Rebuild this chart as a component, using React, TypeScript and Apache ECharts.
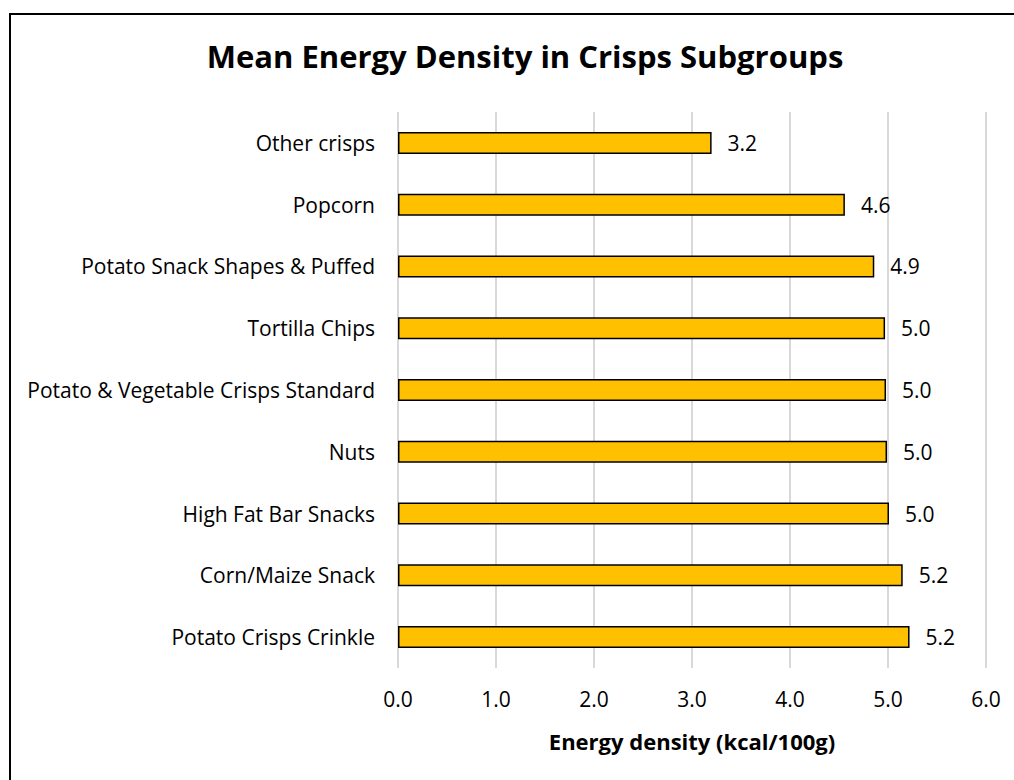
import React, { useEffect, useRef } from "react";
import * as echarts from "echarts";

const categories = [
  "Other crisps",
  "Popcorn",
  "Potato Snack Shapes & Puffed",
  "Tortilla Chips",
  "Potato & Vegetable Crisps Standard",
  "Nuts",
  "High Fat Bar Snacks",
  "Corn/Maize Snack",
  "Potato Crisps Crinkle",
];
const values = [3.2, 4.56, 4.86, 4.97, 4.98, 4.99, 5.01, 5.15, 5.22];
const xTicks = [0, 1, 2, 3, 4, 5, 6];

const FONT = "'Open Sans', sans-serif";

export default function App() {
  const ref = useRef<HTMLDivElement>(null);
  useEffect(() => {
    if (!ref.current) return;
    const chart = echarts.init(ref.current, null, { renderer: "svg" });
    chart.setOption({
      animation: false,
      backgroundColor: "#ffffff",
      title: {
        text: "Mean Energy Density in Crisps Subgroups",
        left: 520,
        textAlign: "center",
        top: 35,
        textStyle: { fontFamily: FONT, fontSize: 31, fontWeight: "bold", color: "#000" },
      },
      graphic: [
        {
          type: "rect",
          shape: { x: 10, y: 14, width: 1020, height: 800 },
          style: { fill: "none", stroke: "#000", lineWidth: 2 },
          silent: true,
        },
      ],
      grid: { left: 398, right: 28, top: 112, bottom: 112, containLabel: false },
      xAxis: {
        type: "value",
        min: xTicks[0],
        max: xTicks[xTicks.length - 1],
        interval: 1,
        name: "Energy density (kcal/100g)",
        nameLocation: "middle",
        nameGap: 62,
        nameTextStyle: { fontFamily: FONT, fontSize: 22, fontWeight: "bold", color: "#000" },
        axisLine: { show: false },
        axisTick: { show: false },
        axisLabel: {
          margin: 20,
          fontFamily: FONT,
          fontSize: 21,
          color: "#000",
          formatter: (v: number) => v.toFixed(1),
        },
        splitLine: { show: true, lineStyle: { color: "#d9d9d9", width: 2 } },
      },
      yAxis: {
        type: "category",
        data: categories,
        inverse: true,
        axisLine: { show: false },
        axisTick: { show: false },
        axisLabel: { margin: 23, fontFamily: FONT, fontSize: 21, color: "#000" },
      },
      series: [
        {
          type: "bar",
          data: values,
          barWidth: 22,
          itemStyle: { color: "#FFC000", borderColor: "#000", borderWidth: 1.5 },
          label: {
            show: true,
            position: "right",
            distance: 16,
            fontFamily: FONT,
            fontSize: 21,
            color: "#000",
            formatter: (p: any) => Number(p.value).toFixed(1),
          },
        },
      ],
    });
    return () => chart.dispose();
  }, []);
  return (
    <div
      ref={ref}
      style={{ position: "absolute", left: 0, top: 0, width: 1014, height: 780 }}
    />
  );
}
